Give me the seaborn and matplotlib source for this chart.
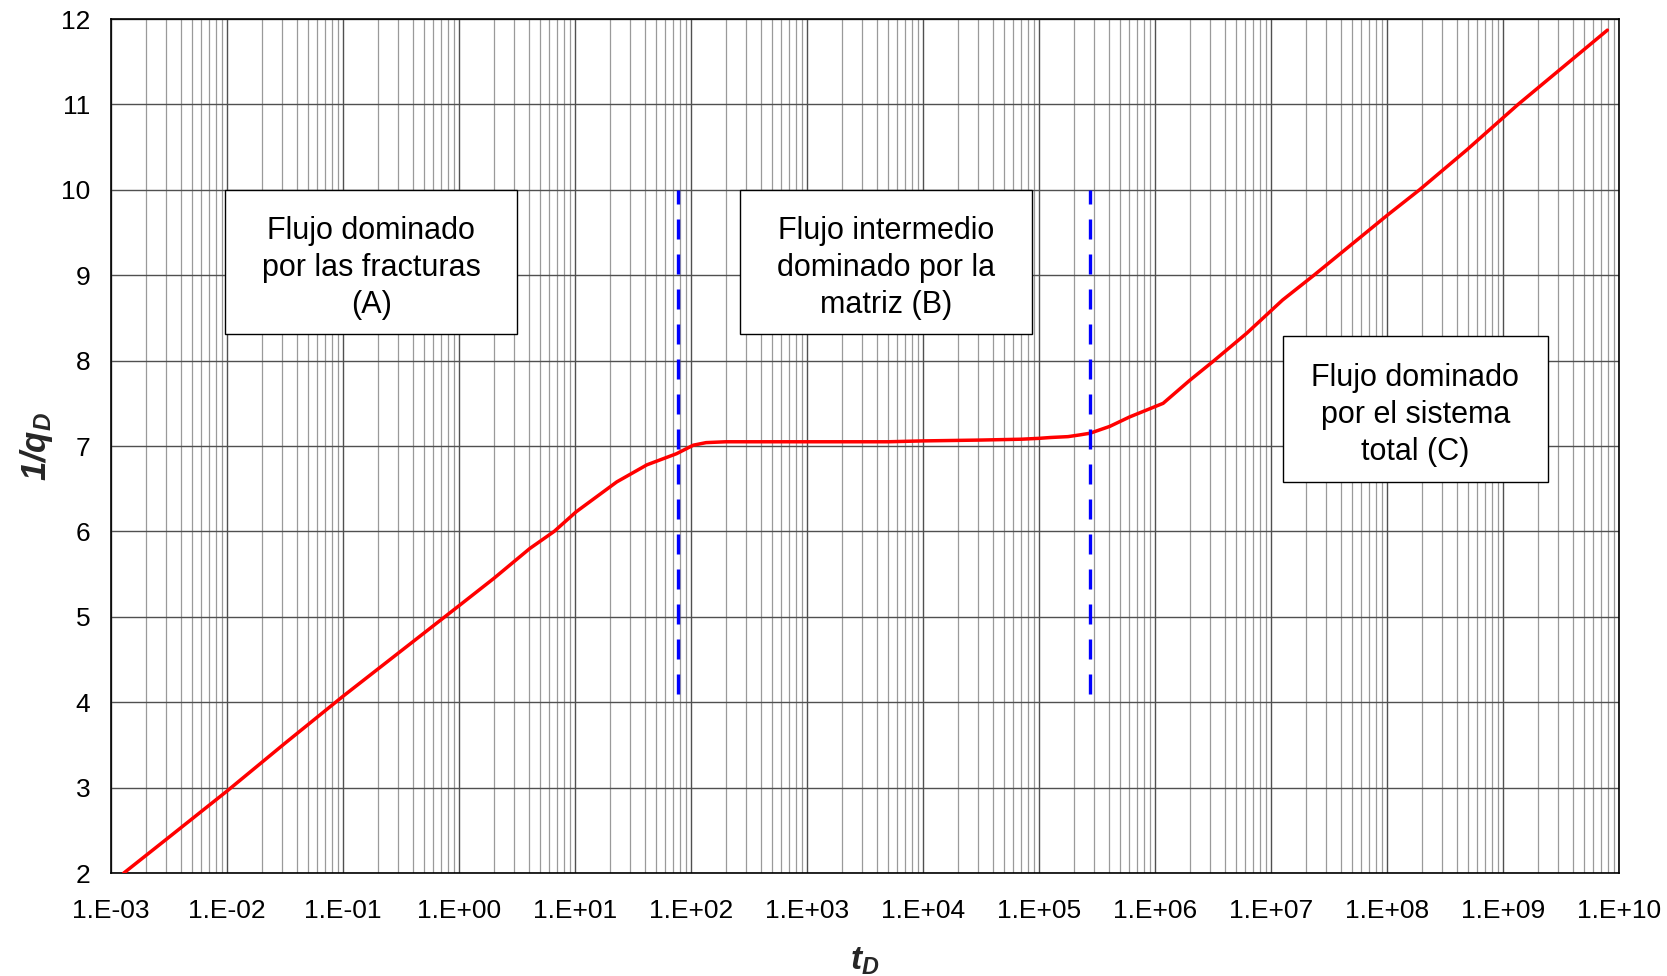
import numpy as np
import pandas as pd
import matplotlib
matplotlib.use("Agg")
import matplotlib.pyplot as plt
import matplotlib.ticker as mticker
from matplotlib.patches import Rectangle
import seaborn as sns

# ---- data ----
log_td = [-2.89, -2.5, -2.0, -1.5, -1.0, -0.5, 0.0, 0.3, 0.61, 0.82, 1.01, 1.2, 1.36,
          1.62, 1.875, 2.02, 2.13, 2.3, 3.0, 3.7, 4.0, 4.5, 4.85, 5.0, 5.1, 5.25,
          5.35, 5.44, 5.61, 5.78, 6.07, 6.3, 6.5, 6.79, 7.1, 7.37, 8.0, 8.28, 8.69,
          9.13, 9.9]
inv_qd = [2.0, 2.42, 2.96, 3.52, 4.07, 4.6, 5.13, 5.45, 5.80, 6.0, 6.23, 6.42, 6.58,
          6.78, 6.91, 7.01, 7.04, 7.05, 7.05, 7.05, 7.06, 7.07, 7.08, 7.09, 7.10, 7.11,
          7.13, 7.15, 7.23, 7.34, 7.50, 7.77, 7.99, 8.32, 8.71, 9.0, 9.70, 10.0, 10.47,
          11.0, 11.87]
boundaries_td = [78.0, 2.75e5]
boundary_y = [4.1, 10.0]
x_tick_labels = ["1.E-03", "1.E-02", "1.E-01", "1.E+00", "1.E+01", "1.E+02", "1.E+03",
                 "1.E+04", "1.E+05", "1.E+06", "1.E+07", "1.E+08", "1.E+09", "1.E+10"]
y_ticks = [2, 3, 4, 5, 6, 7, 8, 9, 10, 11, 12]
box_texts = ["Flujo dominado\npor las fracturas\n(A)",
             "Flujo intermedio\ndominado por la\nmatriz (B)",
             "Flujo dominado\npor el sistema\ntotal (C)"]

df = pd.DataFrame({"tD": 10.0 ** np.array(log_td), "inv_qD": inv_qd})

sns.set_theme(style="white")
plt.rcParams["font.family"] = ["Liberation Sans", "DejaVu Sans"]
plt.rcParams["mathtext.fontset"] = "custom"
plt.rcParams["mathtext.rm"] = "Liberation Sans:bold:italic"
plt.rcParams["mathtext.it"] = "Liberation Sans:bold:italic"
plt.rcParams["mathtext.bf"] = "Liberation Sans:bold:italic"

fig = plt.figure(figsize=(16.67, 9.76), dpi=100)
ax = fig.add_axes([0.0666, 0.1055, 0.9046, 0.875])

ax.set_xscale("log")
ax.set_xlim(1e-3, 1e10)
ax.set_ylim(2, 12)

ax.xaxis.set_major_locator(mticker.LogLocator(base=10, numticks=20))
ax.xaxis.set_minor_locator(mticker.LogLocator(base=10, subs=np.arange(2, 10), numticks=200))
ax.xaxis.set_minor_formatter(mticker.NullFormatter())
ax.set_xticks([10.0 ** k for k in range(-3, 11)])
ax.set_xticklabels(x_tick_labels)
ax.set_yticks(y_ticks)
ax.set_yticklabels([str(v) for v in y_ticks])
ax.grid(True, which="major", axis="both", color="#505050", linewidth=1.0)
ax.grid(True, which="minor", axis="x", color="#9a9a9a", linewidth=0.9)
ax.set_axisbelow(True)

sns.lineplot(data=df, x="tD", y="inv_qD", ax=ax, color="#ff0000", linewidth=2.5,
             sort=False, zorder=5)

for xb in boundaries_td:
    ax.plot([xb, xb], boundary_y, color="#0000ff", linewidth=2.4,
            linestyle=(0, (6, 4.5)), zorder=6)

boxes = [(0.0756, 0.6308, 0.1938, 0.169),
         (0.4170, 0.6308, 0.1940, 0.169),
         (0.7770, 0.4580, 0.1760, 0.171)]
for (x0, y0, w, h), txt in zip(boxes, box_texts):
    ax.add_patch(Rectangle((x0, y0), w, h, transform=ax.transAxes, facecolor="white",
                           edgecolor="black", linewidth=1.0, zorder=7))
    ax.text(x0 + w / 2, y0 + h / 2 - 0.007, txt, transform=ax.transAxes, ha="center",
            va="center", fontsize=22, linespacing=1.3, zorder=8, color="black")

for s in ax.spines.values():
    s.set_visible(True)
    s.set_color("black")
    s.set_linewidth(1.2)

ax.tick_params(axis="both", which="major", direction="out", length=6, width=1,
               colors="black", labelsize=19)
ax.tick_params(axis="x", which="major", pad=13)
ax.tick_params(axis="y", which="major", pad=9)
ax.tick_params(axis="x", which="minor", length=0)

ax.set_xlabel(r"$t_D$", fontsize=24, labelpad=16)
ax.set_ylabel(r"$1/q_D$", fontsize=25, labelpad=4)

fig.savefig("out.png", dpi=100)
